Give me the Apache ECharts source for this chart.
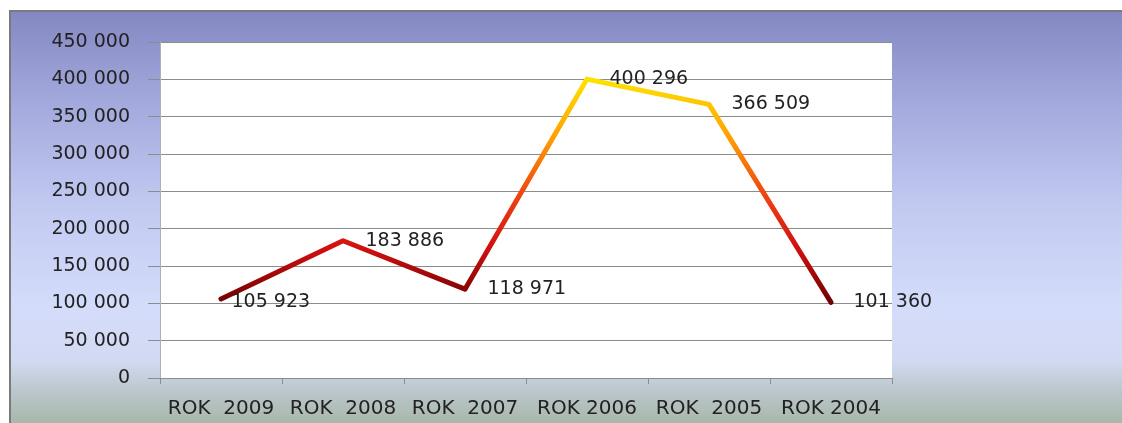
<!DOCTYPE html>
<html>
<head>
<meta charset="utf-8">
<script src="https://cdn.jsdelivr.net/npm/echarts@6/dist/echarts.min.js"></script>
<style>
  html, body { margin: 0; padding: 0; background: #fff; }
  #chart { width: 1122px; height: 423px; }
</style>
</head>
<body>
<div id="chart"></div>
<script>
// data
const categories = ["ROK  2009", "ROK  2008", "ROK  2007", "ROK 2006", "ROK  2005", "ROK 2004"];
const values = [105923, 183886, 118971, 400296, 366509, 101360];
const yTicks = { min: 0, max: 450000, interval: 50000 };

function fmt(v) {
  return String(v).replace(/\B(?=(\d{3})+(?!\d))/g, " ");
}

let myChart = echarts.init(document.getElementById("chart"));

let seriesData = values.map((v, i) => {
  // first label sits closer to its point
  return i === 0 ? { value: v, label: { distance: 10, offset: [0, 3] } } : v;
});

let option = {
  backgroundColor: "#fff",
  animation: false,
  graphic: [
    {
      type: "rect",
      z: -10,
      shape: { x: 10, y: 11, width: 1120, height: 420 },
      style: {
        fill: new echarts.graphic.LinearGradient(0, 0, 0, 1, [
          { offset: 0, color: "#8487c2" },
          { offset: 0.22, color: "#a3a9dc" },
          { offset: 0.46, color: "#c1c9f1" },
          { offset: 0.7, color: "#d4dcfb" },
          { offset: 0.83, color: "#d2daf2" },
          { offset: 0.91, color: "#b9c5c9" },
          { offset: 1, color: "#a3b39f" },
        ]),
        stroke: "#7a7a7a",
        lineWidth: 2,
      },
    },
  ],
  grid: {
    left: 160,
    right: 230,
    top: 42,
    bottom: 45,
    show: true,
    backgroundColor: "#fff",
    borderWidth: 0,
  },
  visualMap: {
    show: false,
    type: "continuous",
    dimension: 1,
    min: 100000,
    max: 400000,
    inRange: {
      color: ["#700000", "#d21010", "#f04812", "#ffa200", "#ffe200"],
    },
  },
  xAxis: {
    type: "category",
    data: categories,
    boundaryGap: true,
    axisLine: { show: true, lineStyle: { color: "#8c8c8c", width: 1 } },
    axisTick: { show: true, length: 6, lineStyle: { color: "#8c8c8c" } },
    axisLabel: {
      interval: 0,
      margin: 21,
      color: "#222",
      fontFamily: "DejaVu Sans",
      fontSize: 20,
    },
    splitLine: { show: false },
  },
  yAxis: {
    type: "value",
    min: yTicks.min,
    max: yTicks.max,
    interval: yTicks.interval,
    axisLine: { show: true, lineStyle: { color: "#b0b0b0" } },
    axisTick: { show: true, length: 12, lineStyle: { color: "#8c8c8c" } },
    axisLabel: {
      margin: 30,
      color: "#222",
      fontFamily: "DejaVu Sans",
      fontSize: 19,
      formatter: (v) => fmt(v),
    },
    splitLine: { show: true, lineStyle: { color: "#8c8c8c", width: 1 } },
  },
  series: [
    {
      type: "line",
      data: seriesData,
      symbol: "circle",
      symbolSize: 1,
      showSymbol: true,
      smooth: false,
      lineStyle: { width: 5, cap: "round", join: "round" },
      label: {
        show: true,
        position: "right",
        distance: 22,
        color: "#222",
        fontFamily: "DejaVu Sans",
        fontSize: 19,
        formatter: (p) => fmt(p.value),
      },
    },
  ],
};

myChart.setOption(option);
</script>
</body>
</html>
